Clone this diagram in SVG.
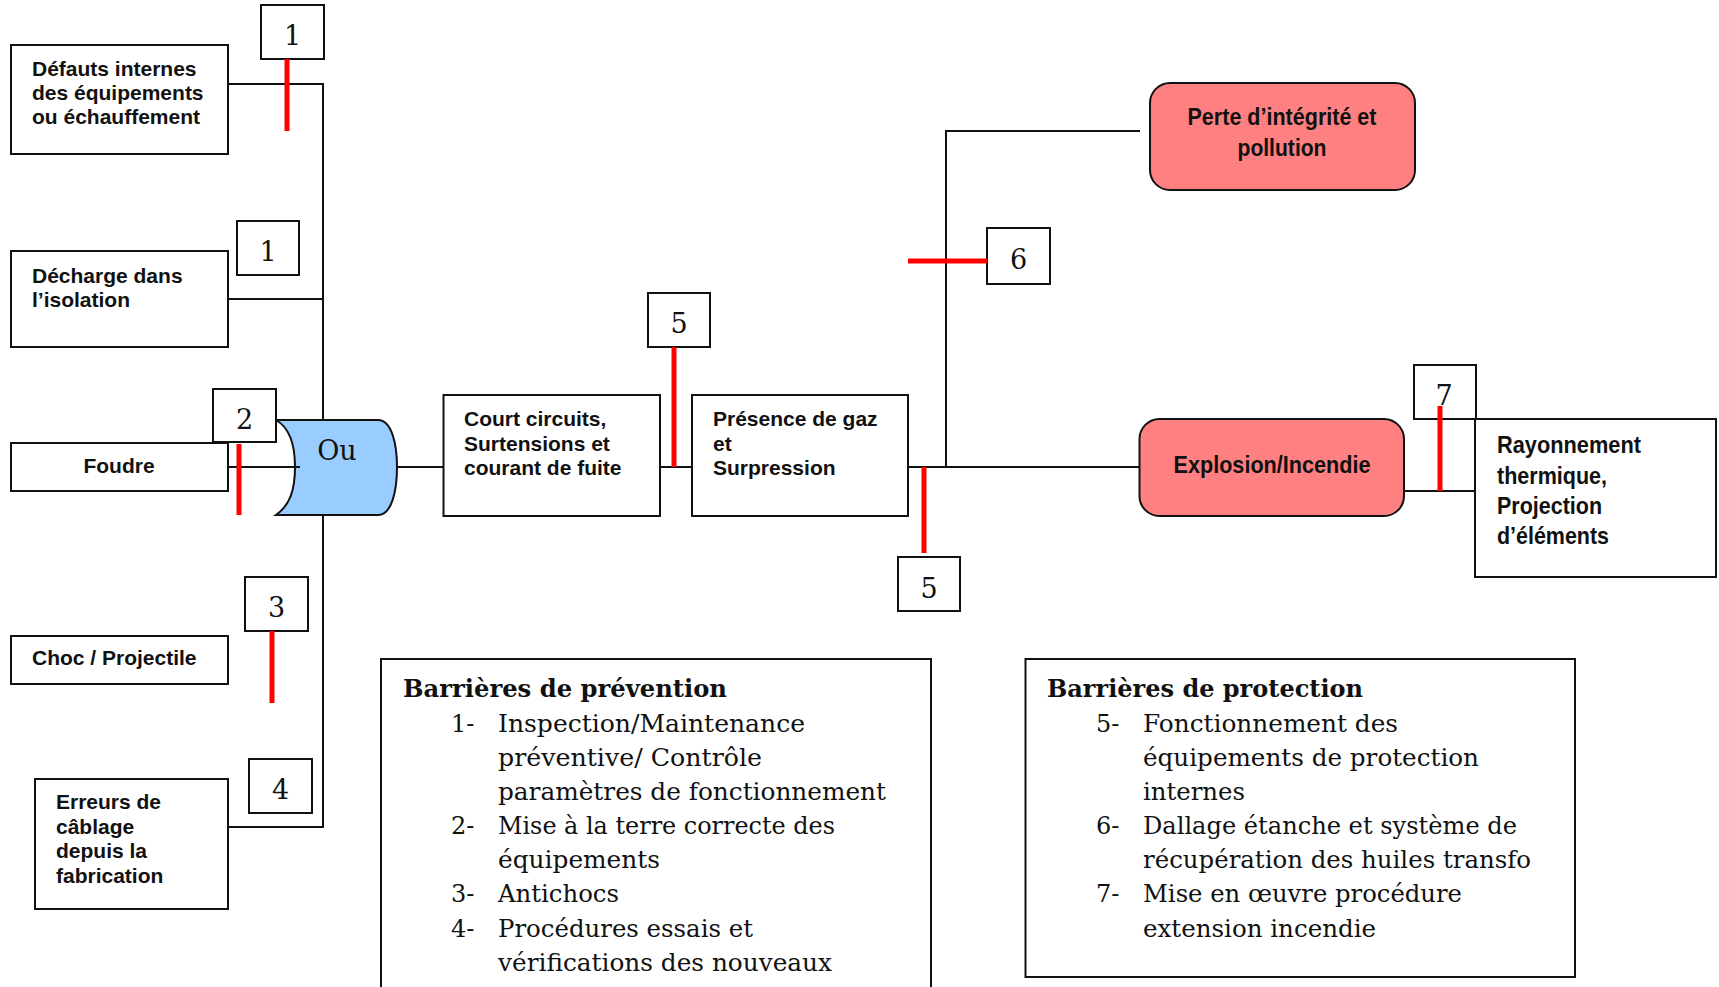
<svg xmlns="http://www.w3.org/2000/svg" width="1719" height="987" viewBox="0 0 1719 987">
  <style>
    .box { fill: #fff; stroke: #111; stroke-width: 2; }
    .event { fill: #FF8080; stroke: #111; stroke-width: 2; }
    .gate { fill: #99CCFF; stroke: #111; stroke-width: 2; }
    .wire { fill: none; stroke: #111; stroke-width: 2; }
    .barrier { fill: none; stroke: #FF0000; stroke-width: 5; }
    .lbl { font-family: "Liberation Sans", Arial, sans-serif; font-weight: bold; font-size: 21px; fill: #111; }
    .nar { font-family: "Liberation Sans Narrow", "Liberation Sans", Arial, sans-serif; font-weight: bold; font-size: 24px; fill: #111; }
    .num { font-family: "DejaVu Serif", serif; font-size: 27px; fill: #111; text-anchor: middle; }
    .list { font-family: "DejaVu Serif", serif; font-size: 24px; fill: #111; }
    .head { font-family: "DejaVu Serif", serif; font-weight: bold; font-size: 24px; fill: #111; }
  </style>

  <!-- initiating causes -->
  <g id="cause-defauts">
    <rect class="box" x="11" y="45" width="217" height="109"/>
    <text class="lbl" x="32" y="76">Défauts internes</text>
    <text class="lbl" x="32" y="100">des équipements</text>
    <text class="lbl" x="32" y="124">ou échauffement</text>
  </g>
  <g id="cause-decharge">
    <rect class="box" x="11" y="251" width="217" height="96"/>
    <text class="lbl" x="32" y="283">Décharge dans</text>
    <text class="lbl" x="32" y="307">l’isolation</text>
  </g>
  <g id="cause-foudre">
    <rect class="box" x="11" y="443" width="217" height="48"/>
    <text class="lbl" x="119" y="473" text-anchor="middle">Foudre</text>
  </g>
  <g id="cause-choc">
    <rect class="box" x="11" y="636" width="217" height="48"/>
    <text class="lbl" x="32" y="665">Choc / Projectile</text>
  </g>
  <g id="cause-erreurs">
    <rect class="box" x="35" y="779" width="193" height="130"/>
    <text class="lbl" x="56" y="809">Erreurs de</text>
    <text class="lbl" x="56" y="834">câblage</text>
    <text class="lbl" x="56" y="858">depuis la</text>
    <text class="lbl" x="56" y="883">fabrication</text>
  </g>

  <!-- OR gate -->
  <g id="gate-ou">
    <path class="gate" d="M276,420 L378,420 C392,420 397,445 397,467 C397,490 392,515 378,515 L276,515 C290,505 295,490 295,467 C295,444 290,428 276,420 Z"/>
    <text class="num" x="337" y="460">Ou</text>
  </g>

  <!-- intermediate events -->
  <g id="event-court">
    <rect class="box" x="443.5" y="395" width="216.5" height="121"/>
    <text class="lbl" x="464" y="426">Court circuits,</text>
    <text class="lbl" x="464" y="451">Surtensions et</text>
    <text class="lbl" x="464" y="475">courant de fuite</text>
  </g>
  <g id="event-gaz">
    <rect class="box" x="692" y="395" width="216" height="121"/>
    <text class="lbl" x="713" y="426">Présence de gaz</text>
    <text class="lbl" x="713" y="451">et</text>
    <text class="lbl" x="713" y="475">Surpression</text>
  </g>

  <!-- outcomes -->
  <g id="event-perte">
    <rect class="event" x="1150" y="83" width="265" height="107" rx="20" ry="20"/>
    <text class="nar" x="1282" y="125" text-anchor="middle" textLength="189" lengthAdjust="spacingAndGlyphs">Perte d’intégrité et</text>
    <text class="nar" x="1282" y="156" text-anchor="middle" textLength="89" lengthAdjust="spacingAndGlyphs">pollution</text>
  </g>
  <g id="event-explosion">
    <rect class="event" x="1139.5" y="419" width="264.5" height="97" rx="20" ry="20"/>
    <text class="nar" x="1272" y="473" text-anchor="middle" textLength="197" lengthAdjust="spacingAndGlyphs">Explosion/Incendie</text>
  </g>
  <g id="event-rayonnement">
    <rect class="box" x="1475" y="419" width="241" height="158"/>
    <text class="nar" x="1497" y="453" textLength="144" lengthAdjust="spacingAndGlyphs">Rayonnement</text>
    <text class="nar" x="1497" y="484" textLength="110" lengthAdjust="spacingAndGlyphs">thermique,</text>
    <text class="nar" x="1497" y="514" textLength="105" lengthAdjust="spacingAndGlyphs">Projection</text>
    <text class="nar" x="1497" y="544" textLength="112" lengthAdjust="spacingAndGlyphs">d’éléments</text>
  </g>

  <!-- barrier number tags -->
  <g id="tag-1a"><rect class="box" x="261" y="5" width="63" height="54"/><text class="num" x="292.5" y="45">1</text></g>
  <g id="tag-1b"><rect class="box" x="237" y="221" width="62" height="54"/><text class="num" x="268" y="261">1</text></g>
  <g id="tag-2"><rect class="box" x="213" y="389" width="63" height="53"/><text class="num" x="244.5" y="429">2</text></g>
  <g id="tag-3"><rect class="box" x="245" y="577" width="63" height="54"/><text class="num" x="276.5" y="617">3</text></g>
  <g id="tag-4"><rect class="box" x="249" y="759" width="63" height="54"/><text class="num" x="280.5" y="799">4</text></g>
  <g id="tag-5a"><rect class="box" x="648" y="293" width="62" height="54"/><text class="num" x="679" y="333">5</text></g>
  <g id="tag-5b"><rect class="box" x="898" y="557" width="62" height="54"/><text class="num" x="929" y="598">5</text></g>
  <g id="tag-6"><rect class="box" x="987" y="228" width="63" height="56"/><text class="num" x="1018.5" y="269">6</text></g>
  <g id="tag-7"><rect class="box" x="1414" y="365" width="62" height="54"/><text class="num" x="1444" y="405">7</text></g>

  <!-- legend: prevention barriers -->
  <g id="legend-prevention">
    <rect class="box" x="381" y="659" width="550" height="345"/>
    <text class="head" x="403" y="697" textLength="324" lengthAdjust="spacingAndGlyphs">Barrières de prévention</text>
    <text class="list" x="451" y="732">1-</text>
    <text class="list" x="498" y="732" textLength="307" lengthAdjust="spacingAndGlyphs">Inspection/Maintenance</text>
    <text class="list" x="498" y="766" textLength="264" lengthAdjust="spacingAndGlyphs">préventive/ Contrôle</text>
    <text class="list" x="498" y="800" textLength="388" lengthAdjust="spacingAndGlyphs">paramètres de fonctionnement</text>
    <text class="list" x="451" y="834">2-</text>
    <text class="list" x="498" y="834" textLength="337" lengthAdjust="spacingAndGlyphs">Mise à la terre correcte des</text>
    <text class="list" x="498" y="868" textLength="162" lengthAdjust="spacingAndGlyphs">équipements</text>
    <text class="list" x="451" y="902">3-</text>
    <text class="list" x="498" y="902" textLength="121" lengthAdjust="spacingAndGlyphs">Antichocs</text>
    <text class="list" x="451" y="937">4-</text>
    <text class="list" x="498" y="937" textLength="255" lengthAdjust="spacingAndGlyphs">Procédures essais et</text>
    <text class="list" x="498" y="971" textLength="334" lengthAdjust="spacingAndGlyphs">vérifications des nouveaux</text>
  </g>

  <!-- legend: protection barriers -->
  <g id="legend-protection">
    <rect class="box" x="1025.5" y="659" width="549.5" height="318"/>
    <text class="head" x="1047" y="697" textLength="316" lengthAdjust="spacingAndGlyphs">Barrières de protection</text>
    <text class="list" x="1096" y="732">5-</text>
    <text class="list" x="1143" y="732" textLength="255" lengthAdjust="spacingAndGlyphs">Fonctionnement des</text>
    <text class="list" x="1143" y="766" textLength="336" lengthAdjust="spacingAndGlyphs">équipements de protection</text>
    <text class="list" x="1143" y="800" textLength="102" lengthAdjust="spacingAndGlyphs">internes</text>
    <text class="list" x="1096" y="834">6-</text>
    <text class="list" x="1143" y="834" textLength="374" lengthAdjust="spacingAndGlyphs">Dallage étanche et système de</text>
    <text class="list" x="1143" y="868" textLength="388" lengthAdjust="spacingAndGlyphs">récupération des huiles transfo</text>
    <text class="list" x="1096" y="902">7-</text>
    <text class="list" x="1143" y="902" textLength="319" lengthAdjust="spacingAndGlyphs">Mise en œuvre procédure</text>
    <text class="list" x="1143" y="937" textLength="233" lengthAdjust="spacingAndGlyphs">extension incendie</text>
  </g>

  <!-- connectors -->
  <g id="connectors">
    <path class="wire" d="M228,84 H323 V420"/>
    <path class="wire" d="M228,299 H323"/>
    <path class="wire" d="M228,827 H323 V515"/>
    <path class="wire" d="M228,467 H300"/>
    <path class="wire" d="M397,467 H443.5"/>
    <path class="wire" d="M660,467 H692"/>
    <path class="wire" d="M908,467 H1139.5"/>
    <path class="wire" d="M946,467 V131 H1140"/>
    <path class="wire" d="M1404,491 H1475"/>
  </g>

  <!-- barrier bars -->
  <g id="barriers">
    <line class="barrier" x1="287" y1="59" x2="287" y2="131"/>
    <line class="barrier" x1="239" y1="444" x2="239" y2="515"/>
    <line class="barrier" x1="272" y1="631" x2="272" y2="703"/>
    <line class="barrier" x1="674" y1="347" x2="674" y2="467"/>
    <line class="barrier" x1="924" y1="467" x2="924" y2="553"/>
    <line class="barrier" x1="908" y1="261" x2="987" y2="261"/>
    <line class="barrier" x1="1440" y1="406" x2="1440" y2="491"/>
  </g>
</svg>
